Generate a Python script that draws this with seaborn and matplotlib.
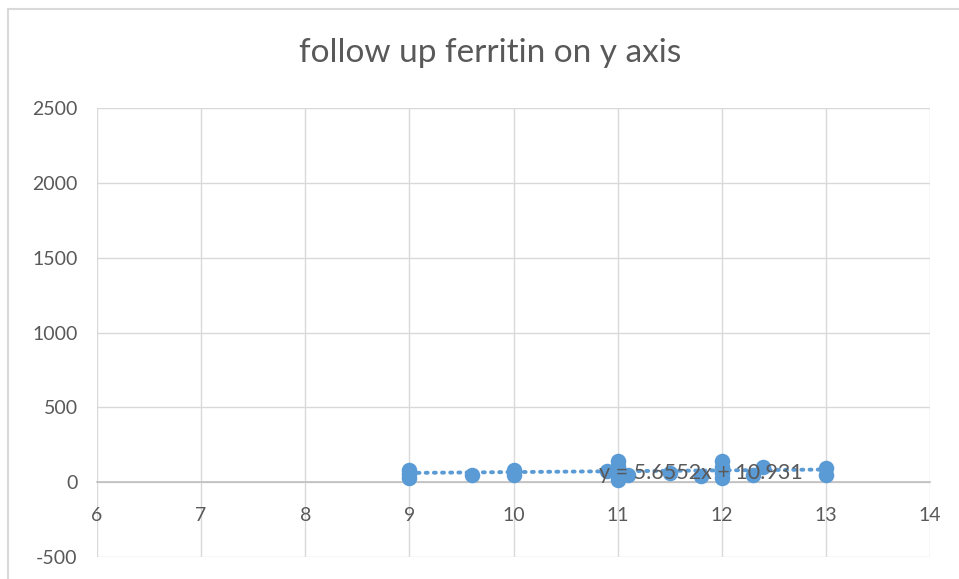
import matplotlib
matplotlib.use("Agg")
import matplotlib.pyplot as plt
import numpy as np
import pandas as pd
import seaborn as sns
from matplotlib.patches import Rectangle

# Baseline hemoglobin-like measurement (x) vs follow-up ferritin (y)
x_values = [9, 9, 9, 9.6, 10, 10, 10.9, 11, 11, 11, 11, 11, 11.1, 11.5, 11.8,
            12, 12, 12, 12, 12.3, 12.4, 13, 13]
ferritin = [80, 55, 25, 47, 80, 50, 75, 140, 110, 80, 50, 15, 45, 60, 40,
            140, 100, 60, 25, 47, 100, 95, 50]

# Linear trendline coefficients
slope = 5.6552
intercept = 10.931

title = "follow up ferritin on y axis"
x_ticks = [6, 7, 8, 9, 10, 11, 12, 13, 14]
y_ticks = [-500, 0, 500, 1000, 1500, 2000, 2500]

df = pd.DataFrame({"x": x_values, "ferritin": ferritin})

sns.set_style("white")
plt.rcParams["font.family"] = ["Lato", "DejaVu Sans"]
plt.rcParams["axes.unicode_minus"] = False

blue = "#5B9BD5"
text_grey = "#595959"
grid_grey = "#D9D9D9"

fig = plt.figure(figsize=(9.59, 5.79), dpi=100)
ax = fig.add_axes([97 / 959, 1 - 557 / 579, (930 - 97) / 959, (557 - 108) / 579])

# chart outer border
fig.patches.append(Rectangle((8 / 959, -0.1), 1.2, 1 - 9 / 579 + 0.1,
                             transform=fig.transFigure, fill=False,
                             edgecolor=grid_grey, linewidth=1.5, zorder=0))

ax.set_xlim(6, 14)
ax.set_ylim(-500, 2500)
ax.set_xticks(x_ticks)
ax.set_yticks(y_ticks)
ax.grid(True, color=grid_grey, linewidth=1)
ax.set_axisbelow(True)

for side in ["left", "right", "top"]:
    ax.spines[side].set_visible(False)
ax.spines["bottom"].set_position(("data", 0))
ax.spines["bottom"].set_color("#BFBFBF")
ax.spines["bottom"].set_linewidth(1.2)

ax.tick_params(axis="both", length=0, colors=text_grey, labelsize=14)
ax.tick_params(axis="x", pad=18)
ax.tick_params(axis="y", pad=14)

# trendline over the data range
tx = np.array([min(x_values), max(x_values)])
ax.plot(tx, slope * tx + intercept, color=blue, linewidth=2.8,
        linestyle=(0, (0.5, 1.6)), dash_capstyle="round", zorder=2)

sns.scatterplot(data=df, x="x", y="ferritin", ax=ax, color=blue, s=125,
                edgecolor=blue, linewidth=0, zorder=3, legend=False)

ax.text(11.8, 62, f"y = {slope}x + {intercept}", ha="center", va="center",
        fontsize=15.5, color=text_grey, zorder=4)

ax.set_xlabel("")
ax.set_ylabel("")
fig.text(490 / 959, 1 - 53 / 579, title, ha="center", va="center",
         fontsize=24, color=text_grey)

fig.savefig("out.png", dpi=100)
